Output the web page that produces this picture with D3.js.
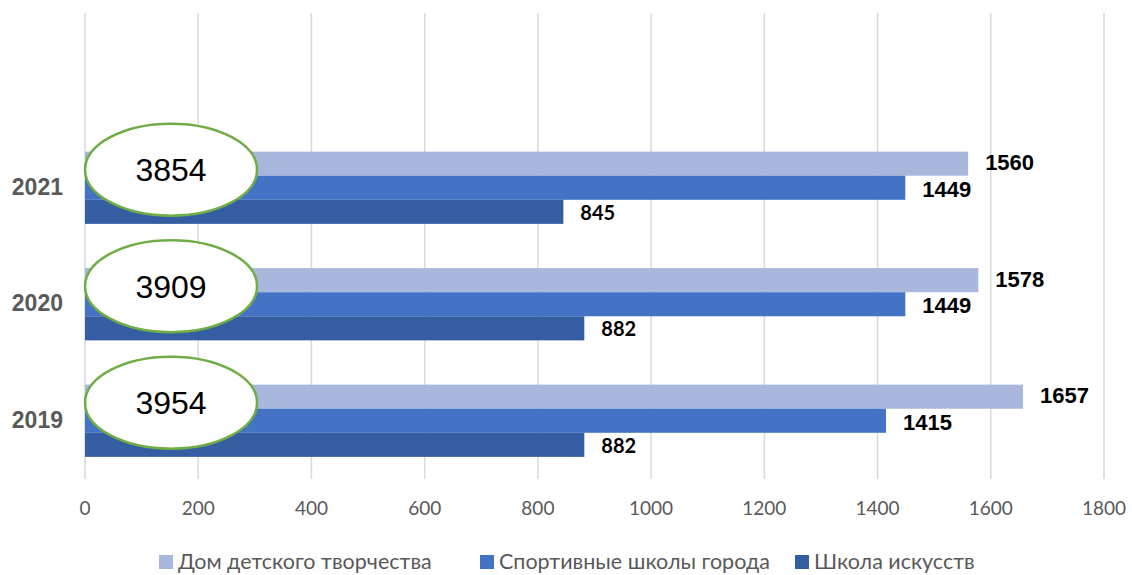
<!DOCTYPE html>
<html><head><meta charset="utf-8">
<script src="https://cdn.jsdelivr.net/npm/d3@7"></script>
<style>body{margin:0;background:#fff}svg{display:block}</style>
</head><body>
<svg id="c" width="1132" height="575"></svg>
<script>
const categories = ["2021", "2020", "2019"];
const seriesNames = ["Дом детского творчества", "Спортивные школы города", "Школа искусств"];
const domValues = [1560, 1578, 1657];
const sportValues = [1449, 1449, 1415];
const artValues = [845, 882, 882];
const xTicks = [0, 200, 400, 600, 800, 1000, 1200, 1400, 1600, 1800];
const colors = ["#A9B7DC", "#4472C4", "#355DA2"];

const seriesValues = [domValues, sportValues, artValues];
const svg = d3.select("#c");
const plotLeft = 85, plotRight = 1104, plotTop = 13, plotBottom = 479;

const x = d3.scaleLinear().domain([0, 1800]).range([plotLeft, plotRight]);
const step = (plotBottom - plotTop) / 4;
const y = d3.scaleBand().domain(categories).range([plotTop + step, plotBottom]).paddingInner(0.38).paddingOuter(0.19);
const ys = d3.scaleBand().domain(seriesNames).range([0, y.bandwidth()]);

// gridlines
svg.append("g").selectAll("line").data(xTicks).join("line")
  .attr("x1", d => x(d)).attr("x2", d => x(d))
  .attr("y1", plotTop).attr("y2", plotBottom)
  .attr("stroke", "#d9d9d9").attr("stroke-width", 1.5);

// x tick labels
svg.append("g").selectAll("text").data(xTicks).join("text")
  .attr("x", d => x(d)).attr("y", 515)
  .attr("text-anchor", "middle")
  .attr("font-family", "Lato, 'Open Sans', sans-serif").attr("font-size", 19)
  .attr("fill", "#595959").text(d => d);

// bars
categories.forEach((cat, ci) => {
  const g = svg.append("g").attr("transform", `translate(0,${y(cat)})`);
  seriesNames.forEach((s, si) => {
    const v = seriesValues[si][ci];
    g.append("rect").attr("x", x(0)).attr("y", ys(s))
      .attr("width", x(v) - x(0)).attr("height", ys.bandwidth())
      .attr("fill", colors[si]);
    g.append("text").attr("x", x(v) + 17).attr("y", ys(s) + ys.bandwidth() / 2 + (si === 0 ? 1 : 3))
      .attr("dominant-baseline", "middle")
      .attr("font-family", si === 2 ? "Lato, sans-serif" : "'Liberation Sans', Arial, sans-serif")
      .attr("font-weight", "bold").attr("font-size", si === 2 ? 20 : 22)
      .attr("fill", "#000").text(v);
  });
  // category label
  svg.append("text").attr("x", 63).attr("y", y(cat) + y.bandwidth() / 2 + 1)
    .attr("text-anchor", "end").attr("dominant-baseline", "middle")
    .attr("font-family", "'Liberation Sans', Arial, sans-serif").attr("font-weight", "bold")
    .attr("font-size", 23).attr("fill", "#595959").text(cat);
  // total ellipse
  const total = d3.sum(seriesValues, arr => arr[ci]);
  const cy = y(cat) + 18, cx = x(152);
  svg.append("ellipse").attr("cx", cx).attr("cy", cy).attr("rx", 86).attr("ry", 46)
    .attr("fill", "#fff").attr("stroke", "#70AD47").attr("stroke-width", 2.5);
  svg.append("text").attr("x", cx).attr("y", cy + 3)
    .attr("text-anchor", "middle").attr("dominant-baseline", "middle")
    .attr("font-family", "'Liberation Sans', Arial, sans-serif").attr("font-size", 32)
    .attr("fill", "#000").text(total);
});

// legend
const legendX = [159, 480, 795];
const lg = svg.append("g");
seriesNames.forEach((s, i) => {
  lg.append("rect").attr("x", legendX[i]).attr("y", 555).attr("width", 14).attr("height", 14).attr("fill", colors[i]);
  lg.append("text").attr("x", legendX[i] + 19).attr("y", 569)
    .attr("font-family", "Lato, 'Open Sans', sans-serif").attr("font-size", 21.5)
    .attr("fill", "#595959").text(s);
});
</script>
</body></html>
